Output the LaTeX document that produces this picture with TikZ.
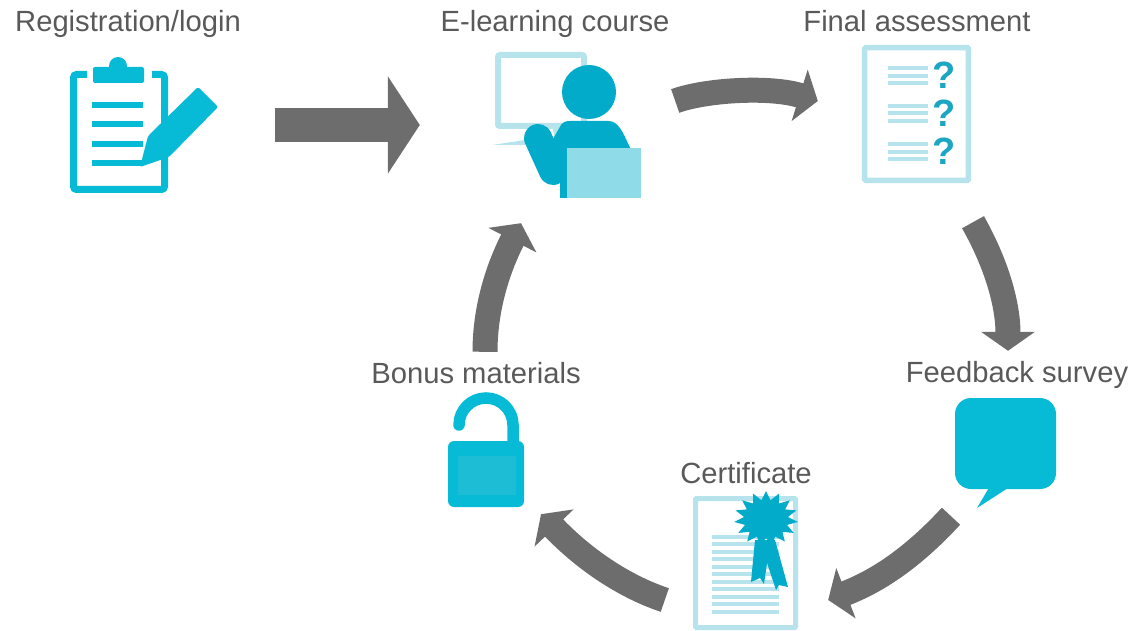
\documentclass[tikz,border=0pt]{standalone}
\usepackage{fontspec}
\setmainfont{Liberation Sans}
\usetikzlibrary{arrows.meta,shapes.geometric}
\definecolor{arrowgray}{HTML}{6D6D6D}
\definecolor{labelgray}{HTML}{595959}
\definecolor{iconblue}{HTML}{07BBD6}
\definecolor{deepblue}{HTML}{02ABCA}
\definecolor{markblue}{HTML}{1CA6C4}
\definecolor{paleblue}{HTML}{B6E3EC}
\definecolor{laptopblue}{HTML}{8FDBE8}
\definecolor{lockblue}{HTML}{1DBED5}
\tikzset{
	steplabel/.style={anchor=base,inner sep=0pt,text=labelgray,font=\fontsize{29.2}{32}\selectfont},
	iconbox/.style={inner sep=0pt,minimum width=#1},
	blockarrow/.style={draw=arrowgray,line width=25pt,-{Triangle[width=53pt,length=19pt]}},
	qmark/.style={inner sep=0pt,text=markblue,font=\fontsize{38}{38}\selectfont\bfseries}
}
\begin{document}
\begin{tikzpicture}[x=1pt,y=-1pt]
	\useasboundingbox (0,0) rectangle (1132,631);
	% labels
	\node[steplabel] (reglabel) at (128,32) {Registration/login};
	\node[steplabel] (courselabel) at (555,32) {E-learning course};
	\node[steplabel] (finallabel) at (917,32) {Final assessment};
	\node[steplabel] (surveylabel) at (1017,382) {Feedback survey};
	\node[steplabel] (certlabel) at (746,483) {Certificate};
	\node[steplabel] (bonuslabel) at (476,383) {Bonus materials};
	% icon areas
	\node[iconbox=148pt,minimum height=136pt] (reg) at (144,125) {};
	\node[iconbox=149pt,minimum height=146pt] (course) at (566.5,125) {};
	\node[iconbox=109pt,minimum height=138pt] (final) at (916.5,114) {};
	\node[iconbox=101pt,minimum height=110pt] (survey) at (1005.5,453) {};
	\node[iconbox=105pt,minimum height=140pt] (cert) at (745.5,560) {};
	\node[iconbox=76pt,minimum height=114pt] (bonus) at (486,450) {};
	% clipboard
	\draw[iconblue,line width=7pt,rounded corners=3pt] (87,74.5) -- (73.5,74.5) -- (73.5,189.5) -- (164.5,189.5) -- (164.5,74.5) -- (152,74.5);
	\fill[iconblue] (118,66) circle (9);
	\fill[iconblue,rounded corners=2pt] (93,83) -- (93,67) -- (144,67) -- (144,83) -- cycle;
	\foreach \y in {105,124,144,163}
		\fill[iconblue] (92,\y-2.8) rectangle (143,\y+2.8);
	\fill[iconblue,rounded corners=2pt] (140,167) -- (148,136) -- (198,87) -- (218,107) -- (169,157) -- cycle;
	% person at a screen
	\draw[paleblue,line width=6pt,rounded corners=2pt] (498,55) rectangle (584,126);
	\fill[paleblue] (492,145) -- (525,140) -- (525,145) -- cycle;
	\fill[paleblue] (552,126) -- (565,126) -- (555,138) -- cycle;
	\fill[deepblue] (589,92) circle (27);
	\fill[deepblue] (560,198) -- (560,178) -- (546,160) -- (553,139) -- (561,125) .. controls (563,122) and (566,121) .. (570,121) -- (608,121) .. controls (618,121) and (622,130) .. (631,150) -- (631,198) -- cycle;
	\draw[deepblue,line width=28pt,line cap=round] (538,138) -- (553,171);
	\fill[laptopblue] (567,148) rectangle (641,198);
	% question sheet
	\draw[paleblue,line width=5.5pt,rounded corners=1pt] (864.7,47.7) rectangle (968.3,180.3);
	\foreach \y in {68,76,83,106,113,121,144,152,159}
		\fill[paleblue] (888,\y-1.7) rectangle (928,\y+1.7);
	\foreach \i/\y in {1/75,2/113,3/151}
		\node[qmark] (qmark\i) at (944,\y) {?};
	% speech bubble
	\fill[iconblue,rounded corners=16pt] (955,398) rectangle (1056,489);
	\fill[iconblue] (990,486) -- (977,508) -- (1008,488) -- cycle;
	% certificate
	\draw[paleblue,line width=5pt,rounded corners=1pt] (695.5,498.5) rectangle (795.5,627.5);
	\foreach \y in {537,544,552,559,567,574,582,589,597,604,612}
		\fill[paleblue] (712,\y-1.8) rectangle (779,\y+1.8);
	\fill[deepblue] (755,540) -- (751,582) -- (760,578) -- (764,584) -- (767,563) -- (776,590) -- (779,585) -- (788,587) -- (775,540) -- cycle;
	\node[star,star points=15,star point ratio=1.45,minimum size=64pt,inner sep=0pt,fill=deepblue,yscale=.87] (seal) at (766,519) {};
	% open lock
	\draw[iconblue,line width=11.5pt,line cap=round] (459,425) arc (180:360:27) -- (513,445);
	\fill[iconblue,rounded corners=6pt] (448,441) rectangle (524,507);
	\fill[lockblue] (458,456) rectangle (516,495);
	% connectors
	\draw[draw=arrowgray,line width=34pt,-{Triangle[width=96pt,length=32pt]}] ([xshift=57pt]reg.east) -- ([xshift=-72pt]course.west);
	\draw[blockarrow] ([shift={(34,-24)}]course.east) .. controls +(30,-11) and +(-48,-15) .. ([shift={(-44,-13)}]final.west);
	\draw[blockarrow] ([shift={(56.5,39)}]final.south) .. controls +(27,48) and +(0,-41) .. ([shift={(2.5,-47)}]survey.north);
	\draw[blockarrow] ([shift={(-54.5,8)}]survey.south) .. controls +(-36,39) and +(52,-20) .. ([shift={(30,40)}]cert.east);
	\draw[blockarrow] ([shift={(-28,40)}]cert.west) .. controls +(-45,-15) and +(39,41) .. ([shift={(55,7)}]bonus.south);
	\draw[blockarrow] ([shift={(-1,-41)}]bonus.north) .. controls +(0,-42) and +(-24,47) .. ([shift={(-45.5,25)}]course.south);
\end{tikzpicture}
\end{document}
